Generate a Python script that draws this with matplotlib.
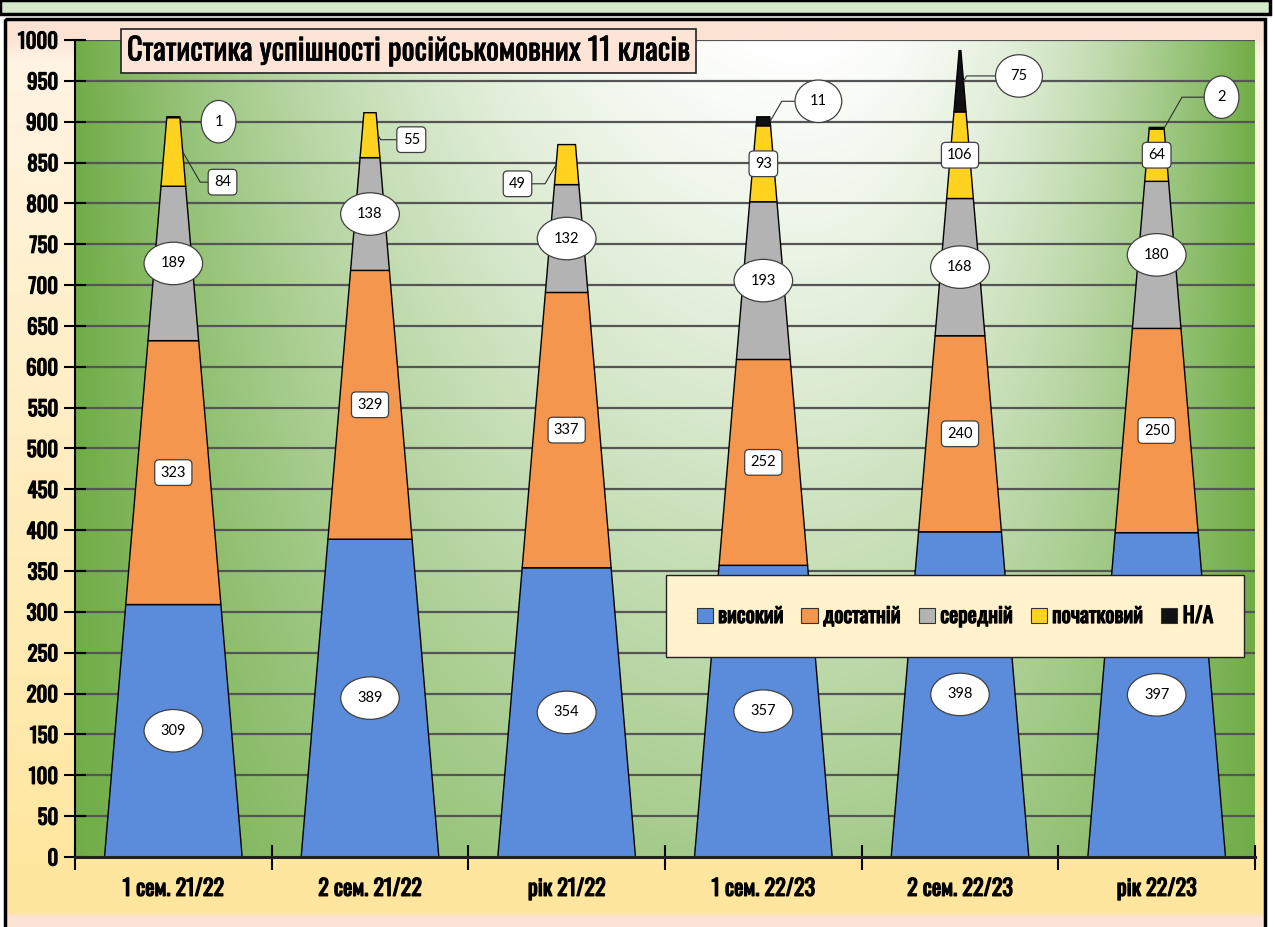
import numpy as np
import matplotlib
matplotlib.use("Agg")
import matplotlib.pyplot as plt
import matplotlib.patheffects as pe
from matplotlib.patches import Patch, Rectangle
from matplotlib.colors import to_rgb

categories = ["1 сем. 21/22", "2 сем. 21/22", "рік 21/22",
              "1 сем. 22/23", "2 сем. 22/23", "рік 22/23"]
series_names = ["високий", "достатній", "середній", "початковий", "Н/А"]
high = [309, 389, 354, 357, 398, 397]
sufficient = [323, 329, 337, 252, 240, 250]
middle = [189, 138, 132, 193, 168, 180]
initial = [84, 55, 49, 93, 106, 64]
na = [1, 0, 0, 11, 75, 2]
yticks = list(range(0, 1001, 50))
title = "Статистика успішності російськомовних 11 класів"

colors = ["#5B8CDC", "#F5964F", "#B3B3B3", "#FFD21F", "#111111"]
label_shapes = ["ellipse,pad=0.55", "round,pad=0.4,rounding_size=0.3",
                "ellipse,pad=0.55", "round,pad=0.4,rounding_size=0.3",
                "ellipse,pad=0.55"]
# labels moved off the pyramid, with leader lines: (series, category) -> text pos, side
leaders = {
    (4, 0): (0.23, 900, 1), (3, 0): (0.25, 826, 1), (3, 1): (1.21, 878, 1),
    (3, 2): (1.75, 824, -1), (4, 3): (3.28, 925, 1), (4, 4): (4.30, 956, 1),
    (4, 5): (5.33, 930, 1),
}

COND = ["Oswald", "DejaVu Sans"]
# Oswald only ships one weight here, thicken it with a thin stroke
BOLD = [pe.withStroke(linewidth=0.9, foreground="black")]
SEMI = [pe.withStroke(linewidth=0.5, foreground="black")]
W, H = 1275, 927
fig = plt.figure(figsize=(W / 100, H / 100), dpi=100, facecolor="white")

# ---- chart background (pixel coords) ----
bg = fig.add_axes([0, 0, 1, 1], zorder=-10)
bg.axis("off")
rows = np.arange(H)
stops_y = [18, 42, 300, 860, 912, 916, 927]
stops_c = [to_rgb(c) for c in ["#FBE2D3", "#FFF4E4", "#FFF0CC", "#FFE7A0",
                               "#FFE69E", "#FBE3D5", "#FBE3D5"]]
grad = np.stack([np.interp(rows, stops_y, [c[k] for c in stops_c]) for k in range(3)], -1)
grad = np.repeat(grad[:, None, :], 4, axis=1)
bg.imshow(grad, extent=(6, 1265, H, 18), aspect="auto", interpolation="bilinear")
bg.add_patch(Rectangle((0, 0), 1270, 14, facecolor="#D6EACB", edgecolor="black", lw=2.5))
bg.add_patch(Rectangle((5, 19), 1260, 915, fill=False, edgecolor="black", lw=2.5))
bg.set_xlim(0, W)
bg.set_ylim(H, 0)

# ---- plot area ----
ax = fig.add_axes([75 / W, 1 - 857 / H, 1180 / W, 817 / H])
gx = np.linspace(0, 1, 300)
gy = np.linspace(0, 1, 200)
X, Y = np.meshgrid(gx, gy)
depth = 1 - Y  # 0 at top, 1 at bottom
xc = 0.62
u = np.where(X < xc, (xc - X) / xc, (X - xc) / (1 - xc))
vert = 0.62 * depth ** 1.1
t = vert + (1 - vert) * u ** 2.0
green = np.array(to_rgb("#70AD47"))
img = (1 - t[..., None]) * 1.0 + t[..., None] * green
ax.imshow(img, extent=(-0.5, 5.5, 0, 1000), origin="lower", aspect="auto",
          interpolation="bilinear", zorder=0)

for yv in yticks[1:]:
    ax.axhline(yv, color="#555555", lw=1.6, zorder=0.5)

data = [high, sufficient, middle, initial, na]
half0 = 0.35


def hw(v):
    return half0 * (1 - v / 1000)


for i in range(len(categories)):
    base = 0
    for j, series in enumerate(data):
        v = series[i]
        if v <= 0:
            continue
        top = base + v
        ax.fill([i - hw(base), i + hw(base), i + hw(top), i - hw(top)],
                [base, base, top, top], facecolor=colors[j],
                edgecolor="black", lw=1.0, zorder=2)
        mid = base + v / 2
        box = dict(boxstyle=label_shapes[j], facecolor="white",
                   edgecolor="#404040", lw=0.9)
        if (j, i) in leaders:
            tx, ty, side = leaders[(j, i)]
            ang = 60 * side * (1 if ty > mid else -1)
            ax.annotate(str(v), xy=(i + side * hw(mid), mid), xytext=(tx, ty),
                        ha="center", va="center", fontsize=10.5, family="Lato",
                        bbox=box, zorder=4,
                        arrowprops=dict(arrowstyle="-", color="#303030", lw=0.8,
                                        shrinkA=0, shrinkB=0,
                                        connectionstyle="angle,angleA=0,angleB=%d" % ang))
        else:
            ax.text(i, mid, str(v), ha="center", va="center", fontsize=10.5,
                    family="Lato", bbox=box, zorder=4)
        base = top

ax.set_xlim(-0.5, 5.5)
ax.set_ylim(0, 1000)
for s in ["top", "right"]:
    ax.spines[s].set_visible(False)
ax.spines["left"].set_linewidth(1.5)
ax.spines["bottom"].set_linewidth(2.2)
ax.spines["bottom"].set_color("#222222")

ax.set_xticks(np.arange(-0.5, 6, 1))
ax.set_xticklabels([])
ax.set_xticks(np.arange(len(categories)), minor=True)
ax.set_xticklabels(categories, minor=True, fontsize=16, family=COND)
ax.tick_params(axis="x", which="major", direction="inout", length=18, width=1.5)
ax.tick_params(axis="x", which="minor", length=0, pad=15)
ax.set_yticks(yticks)
ax.set_yticklabels([str(v) for v in yticks], fontsize=15, family=COND)
ax.tick_params(axis="y", direction="inout", length=16, width=1.5, pad=4)
for lab in ax.get_xticklabels(minor=True) + ax.get_yticklabels():
    lab.set_path_effects(BOLD)

# legend
handles = [Patch(facecolor=c, edgecolor="#333333", lw=0.8) for c in colors]
leg = fig.legend(handles, series_names, loc="center",
                 bbox_to_anchor=(955 / W, 1 - 616 / H), ncol=5, frameon=True,
                 fancybox=False, framealpha=1, facecolor="#FFF2CC",
                 edgecolor="#222222", handlelength=0.75, handleheight=0.75,
                 handletextpad=0.25, columnspacing=0.85, borderpad=1.4,
                 prop=dict(family=COND, size=15.5))
leg.get_frame().set_linewidth(1.0)
for txt in leg.get_texts():
    txt.set_path_effects(BOLD)

# title box
fig.text(127 / W, 1 - 51 / H, title, ha="left", va="center", fontsize=22,
         family=COND, path_effects=SEMI,
         bbox=dict(boxstyle="square,pad=0.2", facecolor="#FCE4D6",
                   edgecolor="#222222", lw=1.2))

fig.savefig("out.png", dpi=100)
